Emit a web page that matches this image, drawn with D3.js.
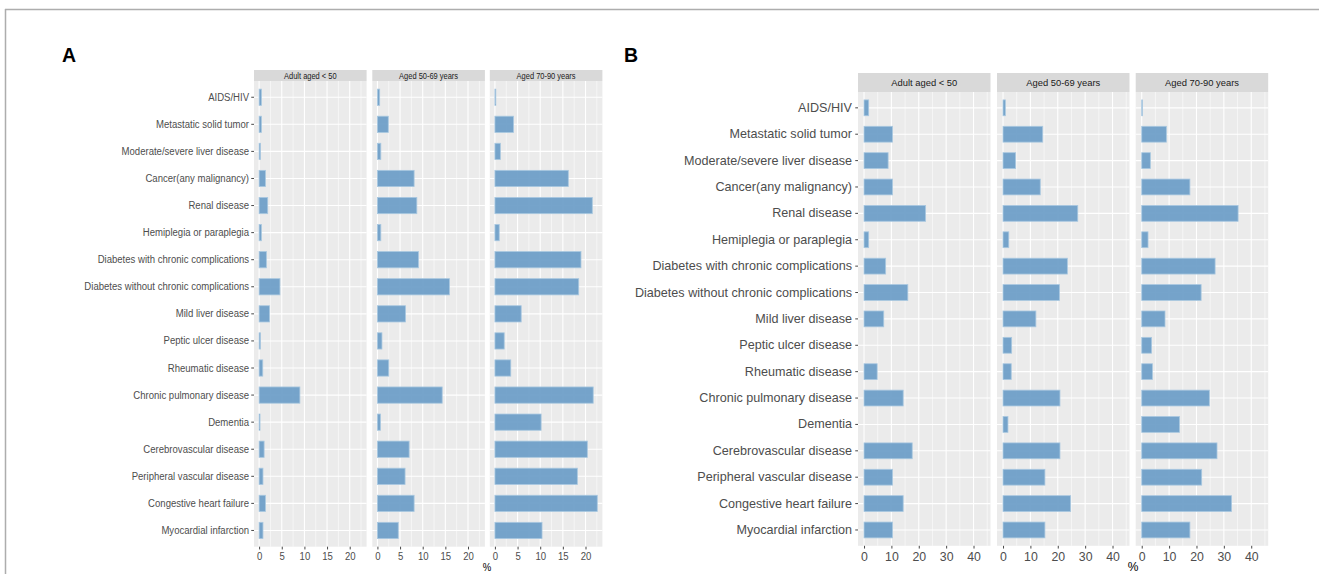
<!DOCTYPE html>
<html><head><meta charset="utf-8">
<script src="https://cdn.jsdelivr.net/npm/d3@7"></script>
<style>
body{margin:0;background:#fff;}
svg{display:block;font-family:"Liberation Sans",Arial,sans-serif;}
</style>
</head><body>
<svg id="chart" width="1319" height="574"></svg>
<script>
// ---------------- data ----------------
const categories = [
  "AIDS/HIV","Metastatic solid tumor","Moderate/severe liver disease","Cancer(any malignancy)",
  "Renal disease","Hemiplegia or paraplegia","Diabetes with chronic complications",
  "Diabetes without chronic complications","Mild liver disease","Peptic ulcer disease",
  "Rheumatic disease","Chronic pulmonary disease","Dementia","Cerebrovascular disease",
  "Peripheral vascular disease","Congestive heart failure","Myocardial infarction"
];
const ageGroups = ["Adult aged < 50","Aged 50-69 years","Aged 70-90 years"];

const panelA_under50 = [0.5,0.5,0.3,1.4,1.9,0.5,1.6,4.6,2.3,0.3,0.8,9.0,0.2,1.1,0.85,1.4,0.85];
const panelA_50to69  = [0.5,2.4,0.75,8.1,8.7,0.75,9.05,15.9,6.2,1.0,2.5,14.3,0.67,7.0,6.1,8.1,4.6];
const panelA_70to90  = [0.2,4.1,1.2,16.2,21.5,0.95,19.0,18.5,5.8,2.05,3.5,21.7,10.2,20.4,18.2,22.6,10.4];

const panelB_under50 = [1.7,10.4,8.8,10.4,22.5,1.7,7.9,16.0,7.2,0,4.8,14.3,0,17.6,10.4,14.3,10.4];
const panelB_50to69  = [0.85,14.5,4.6,13.6,27.3,2.1,23.5,20.6,12.0,3.15,3.0,20.8,1.8,20.8,15.3,24.7,15.3];
const panelB_70to90  = [0.25,9.0,3.15,17.6,35.2,2.3,26.8,21.7,8.5,3.6,3.9,24.7,13.8,27.5,21.9,32.8,17.6];

const ticksA = [0,5,10,15,20];
const minorA = [2.5,7.5,12.5,17.5,22.5];
const ticksB = [0,10,20,30,40];
const minorB = [5,15,25,35,45];
const xTitle = "%";
const panelLetters = ["A","B"];

// ---------------- drawing ----------------
const svg = d3.select("#chart");

// outer frame
svg.append("line").attr("x1",5).attr("x2",1319).attr("y1",9.5).attr("y2",9.5)
  .attr("stroke","#adadad").attr("stroke-width",1.5);
svg.append("line").attr("x1",5.5).attr("x2",5.5).attr("y1",9).attr("y2",574)
  .attr("stroke","#adadad").attr("stroke-width",1.5);

function drawPanel(cfg){
  const g = svg.append("g");
  const y = d3.scaleBand().domain(categories)
    .range([cfg.panelTop, cfg.panelBottom]).paddingInner(0.4).paddingOuter(0.3);
  const sx = cfg.sx;

  cfg.series.forEach((vals, fi) => {
    const x0 = cfg.facetX[fi], x1 = x0 + cfg.facetW;
    const x = d3.scaleLinear().domain(cfg.domain).range([x0, x1]);
    const fg = g.append("g");
    // strip
    fg.append("rect").attr("x",x0).attr("y",cfg.stripTop)
      .attr("width",cfg.facetW).attr("height",cfg.panelTop-cfg.stripTop).attr("fill","#D9D9D9");
    fg.append("text")
      .attr("transform",`translate(${(x0+x1)/2},${(cfg.stripTop+cfg.panelTop)/2}) scale(${sx},1)`)
      .attr("text-anchor","middle").attr("dy","0.35em")
      .attr("font-size",cfg.stripFont).attr("fill","#1A1A1A").text(ageGroups[fi]);
    // panel bg
    fg.append("rect").attr("x",x0).attr("y",cfg.panelTop)
      .attr("width",cfg.facetW).attr("height",cfg.panelBottom-cfg.panelTop).attr("fill","#EBEBEB");
    // minor grid
    fg.selectAll(".minor").data(cfg.minor).join("line")
      .attr("x1",d=>x(d)).attr("x2",d=>x(d)).attr("y1",cfg.panelTop).attr("y2",cfg.panelBottom)
      .attr("stroke","#fff").attr("stroke-width",0.55);
    // major grid
    fg.selectAll(".majorx").data(cfg.ticks).join("line")
      .attr("x1",d=>x(d)).attr("x2",d=>x(d)).attr("y1",cfg.panelTop).attr("y2",cfg.panelBottom)
      .attr("stroke","#fff").attr("stroke-width",1.1);
    fg.selectAll(".majory").data(categories).join("line")
      .attr("x1",x0).attr("x2",x1)
      .attr("y1",d=>y(d)+y.bandwidth()/2).attr("y2",d=>y(d)+y.bandwidth()/2)
      .attr("stroke","#fff").attr("stroke-width",1.1);
    // bars
    fg.selectAll(".bar").data(categories.map((c,i)=>({c, v: vals[i]})).filter(d=>d.v>0)).join("rect")
      .attr("x",x(0)).attr("y",d=>y(d.c))
      .attr("width",d=>Math.max(0.6, x(d.v)-x(0))).attr("height",y.bandwidth())
      .attr("fill","#6F9FC8").attr("fill-opacity",0.95)
      .attr("stroke","#A9C8E0").attr("stroke-width",0.8);
    // x axis
    const ax = fg.append("g").attr("transform",`translate(0,${cfg.panelBottom})`)
      .call(d3.axisBottom(x).tickValues(cfg.ticks).tickSize(2.75).tickPadding(cfg.xPad).tickFormat(d3.format("d")));
    ax.select(".domain").remove();
    ax.selectAll(".tick line").attr("stroke","#333").attr("stroke-width",0.9);
    ax.selectAll(".tick text").attr("font-size",cfg.tickFont).attr("fill","#4D4D4D")
      .attr("font-family",'"Liberation Sans",Arial,sans-serif')
      .attr("transform",`scale(${sx},1)`);
  });

  // y axis (left of first facet)
  const ay = g.append("g").attr("transform",`translate(${cfg.facetX[0]},0)`)
    .call(d3.axisLeft(y).tickSize(2.75).tickPadding(cfg.yPad));
  ay.select(".domain").remove();
  ay.selectAll(".tick line").attr("stroke","#333").attr("stroke-width",0.9);
  ay.selectAll(".tick text").attr("font-size",cfg.labelFont).attr("fill","#4D4D4D")
    .attr("font-family",'"Liberation Sans",Arial,sans-serif')
    .attr("x", -(2.75+cfg.yPad)/sx)
    .attr("transform",`scale(${sx},1)`);

  // x title
  g.append("text").attr("transform",`translate(${cfg.titleX},${cfg.titleY}) scale(${sx},1)`)
    .attr("text-anchor","middle").attr("font-size",cfg.titleFont).attr("fill","#000").text(xTitle);

  // panel letter
  g.append("text").attr("x",cfg.letterX).attr("y",62).attr("font-size",19.5)
    .attr("font-weight","bold").attr("fill","#000").text(cfg.letter);
}

drawPanel({
  letter: panelLetters[0], letterX: 62,
  series: [panelA_under50, panelA_50to69, panelA_70to90],
  facetX: [254, 372.3, 489.8], facetW: 112.6,
  stripTop: 70, panelTop: 81, panelBottom: 546.7,
  domain: [-1.13, 23.73], ticks: ticksA, minor: minorA,
  sx: 0.87, labelFont: 11, tickFont: 11, stripFont: 8.6, titleFont: 11,
  xPad: 2.5, yPad: 2.2, titleX: 487, titleY: 571
});

drawPanel({
  letter: panelLetters[1], letterX: 624,
  series: [panelB_under50, panelB_50to69, panelB_70to90],
  facetX: [858, 997, 1135.7], facetW: 132.5,
  stripTop: 73, panelTop: 92, panelBottom: 545.8,
  domain: [-2.2, 46.2], ticks: ticksB, minor: minorB,
  sx: 1, labelFont: 12.6, tickFont: 12.3, stripFont: 9.4, titleFont: 12,
  xPad: 3.6, yPad: 3.3, titleX: 1133, titleY: 570.5
});
</script>
</body></html>
